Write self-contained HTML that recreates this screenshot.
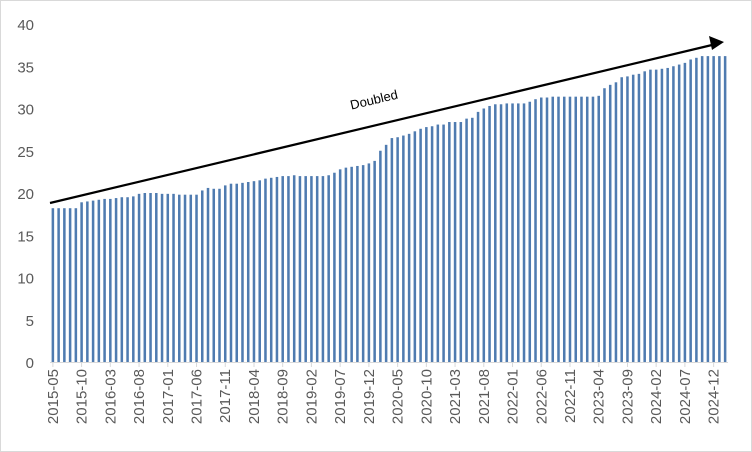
<!DOCTYPE html>
<html><head><meta charset="utf-8"><style>
body{margin:0;background:#fff;}
svg{display:block;font-family:"Liberation Sans",sans-serif;}
</style></head><body>
<svg id="chart" width="752" height="452" viewBox="0 0 752 452">
<rect x="0.5" y="0.5" width="751" height="451" fill="#fff" stroke="#d9d9d9"/>
<g id="yaxis"></g>
<g id="bars"></g>
<g id="xaxis"></g>
<defs><marker id="ah" markerWidth="8" markerHeight="8" refX="6" refY="4" orient="auto" markerUnits="userSpaceOnUse"><path d="M0,0 L14,4 L0,8 z" transform="scale(1)" fill="#000"/></marker></defs>
<line x1="50" y1="203" x2="712" y2="45" stroke="#000" stroke-width="2.2"/>
<polygon points="724,42 709,36 712,50" fill="#000"/>
<text x="375" y="104" font-size="13" text-anchor="middle" transform="rotate(-13.3 375 104)">Doubled</text>
</svg>
<script>
const startYear = 2015, startMonth = 5;
const values = [
18.2,18.2,18.2,18.2,18.2,
18.9,19.0,19.1,19.2,19.3,19.3,19.4,19.5,19.5,19.6,19.9,20.0,
20.0,20.0,19.9,19.9,19.9,19.8,19.8,19.8,19.8,
20.3,20.6,20.5,20.5,20.9,21.1,21.1,21.2,21.3,21.4,21.5,21.7,
21.8,21.9,22.0,22.0,22.1,22.0,22.0,22.0,22.0,22.0,22.1,22.4,
22.8,23.0,23.1,23.2,23.3,23.5,23.8,
25.0,25.7,26.5,26.6,26.8,27.0,27.3,27.6,27.8,27.9,28.1,28.1,28.4,28.4,28.4,28.8,28.9,29.6,30.0,
30.3,30.5,30.5,30.6,30.6,30.6,30.6,30.8,31.1,31.3,31.3,31.4,31.4,31.4,31.4,31.4,31.4,31.4,31.4,31.5,
32.4,32.8,33.1,33.7,33.8,34.0,34.1,34.4,34.6,34.6,34.7,34.8,35.0,35.2,35.4,35.8,36.0,36.2,36.2,36.2,36.2,36.2
];
const yTicks = [0,5,10,15,20,25,30,35,40];
const labelEvery = 5;

const NS="http://www.w3.org/2000/svg";
const x0=50,x1=728,y0=362,yTop=24,yMax=40;
const step=(x1-x0)/values.length;
const yS=v=>y0-(v/yMax)*(y0-yTop);
const xS=i=>x0+step*i;
function mk(t,a,p){const e=document.createElementNS(NS,t);for(const k in a)e.setAttribute(k,a[k]);p.appendChild(e);return e;}
function lab(i){const m=startMonth-1+i;const y=startYear+Math.floor(m/12);const mm=(m%12)+1;return y+"-"+String(mm).padStart(2,"0");}
const ya=document.getElementById("yaxis"),bg=document.getElementById("bars"),xa=document.getElementById("xaxis");
yTicks.forEach(t=>{
 const e=mk("text",{x:34,y:yS(t)+6,"font-size":"15","text-anchor":"end",fill:"#595959"},ya);
 
 
 e.textContent=t;
});
values.forEach((v,i)=>{
 const r=mk("rect",{x:xS(i)+step*0.28,y:yS(v),width:step*0.44,height:y0-yS(v),fill:"#4f7bb0"},bg);
 
 
});
const al=mk("line",{x1:x0,y1:y0+0.5,x2:x1,y2:y0+0.5,stroke:"#d9d9d9","stroke-width":1},xa);


for(let i=0;i<values.length;i+=labelEvery){
 const cx=xS(i)+step/2;
 const tk=mk("line",{x1:cx,y1:y0,x2:cx,y2:y0+5,stroke:"#d9d9d9"},xa);
 
 
 const t=mk("text",{x:0,y:0,"font-size":"15",fill:"#595959","text-anchor":"end",transform:`translate(${cx+5},${y0+7}) rotate(-90)`},xa);
 
 
 t.textContent=lab(i);
}
</script>
</body></html>
